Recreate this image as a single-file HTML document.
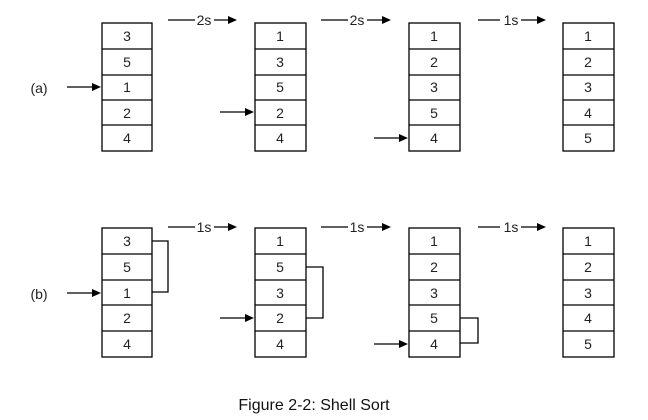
<!DOCTYPE html>
<html><head><style>body{margin:0;background:#fff}svg{display:block}</style></head><body>
<svg width="648" height="420" xmlns="http://www.w3.org/2000/svg" font-family="Liberation Sans, sans-serif">
<g stroke="#000" stroke-width="1.3" fill="none">
<rect x="102" y="23" width="50" height="128"/><rect x="255" y="23" width="51" height="128"/><rect x="409" y="23" width="51" height="128"/><rect x="563" y="23" width="51" height="128"/>
<path d="M102 49H152M102 75H152M102 100H152M102 125H152M255 49H306M255 75H306M255 100H306M255 125H306M409 49H460M409 75H460M409 100H460M409 125H460M563 49H614M563 75H614M563 100H614M563 125H614"/>
<rect x="102" y="228" width="50" height="129"/><rect x="255" y="228" width="51" height="129"/><rect x="409" y="228" width="51" height="129"/><rect x="563" y="228" width="51" height="129"/>
<path d="M102 254H152M102 280H152M102 305H152M102 331H152M255 254H306M255 280H306M255 305H306M255 331H306M409 254H460M409 280H460M409 305H460M409 331H460M563 254H614M563 280H614M563 305H614M563 331H614"/>
<path d="M152 241H168V292H152M306 267H323V318H306M460 318H478V343H460"/>
<path d="M67 87H94M220 112H247M374 138H401M67 293H94M220 318H247M374 344H401"/>
<path d="M168 20H195M214 20H230M321 20H348M367 20H384M478 20H500M521 20H539M168 227H195M214 227H230M321 227H348M367 227H384M478 227H500M521 227H539"/>
</g>
<g fill="#000">
<path d="M92 83L101 87L92 91z"/><path d="M245 108L254 112L245 116z"/><path d="M399 134L408 138L399 142z"/>
<path d="M92 289L101 293L92 297z"/><path d="M245 314L254 318L245 322z"/><path d="M399 340L408 344L399 348z"/>
<path d="M228 16L237 20L228 24z"/><path d="M382 16L391 20L382 24z"/><path d="M537 16L546 20L537 24z"/>
<path d="M228 223L237 227L228 231z"/><path d="M382 223L391 227L382 231z"/><path d="M537 223L546 227L537 231z"/>
</g>
<g font-size="14" text-anchor="middle" fill="#222">
<text x="127" y="41">3</text><text x="127" y="67">5</text><text x="127" y="92">1</text><text x="127" y="118">2</text><text x="127" y="143">4</text>
<text x="280" y="41">1</text><text x="280" y="67">3</text><text x="280" y="92">5</text><text x="280" y="118">2</text><text x="280" y="143">4</text>
<text x="434" y="41">1</text><text x="434" y="67">2</text><text x="434" y="92">3</text><text x="434" y="118">5</text><text x="434" y="143">4</text>
<text x="588" y="41">1</text><text x="588" y="67">2</text><text x="588" y="92">3</text><text x="588" y="118">4</text><text x="588" y="143">5</text>
<text x="127" y="246">3</text><text x="127" y="272">5</text><text x="127" y="298">1</text><text x="127" y="323">2</text><text x="127" y="349">4</text>
<text x="280" y="246">1</text><text x="280" y="272">5</text><text x="280" y="298">3</text><text x="280" y="323">2</text><text x="280" y="349">4</text>
<text x="434" y="246">1</text><text x="434" y="272">2</text><text x="434" y="298">3</text><text x="434" y="323">5</text><text x="434" y="349">4</text>
<text x="588" y="246">1</text><text x="588" y="272">2</text><text x="588" y="298">3</text><text x="588" y="323">4</text><text x="588" y="349">5</text>
<text x="204" y="25">2s</text><text x="357" y="25">2s</text><text x="511" y="25">1s</text>
<text x="204" y="232">1s</text><text x="357" y="232">1s</text><text x="511" y="232">1s</text>
<text x="39" y="93">(a)</text><text x="39" y="299">(b)</text>
<text x="314" y="410" font-size="16" fill="#111">Figure 2-2: Shell Sort</text>
</g>
</svg>
</body></html>
